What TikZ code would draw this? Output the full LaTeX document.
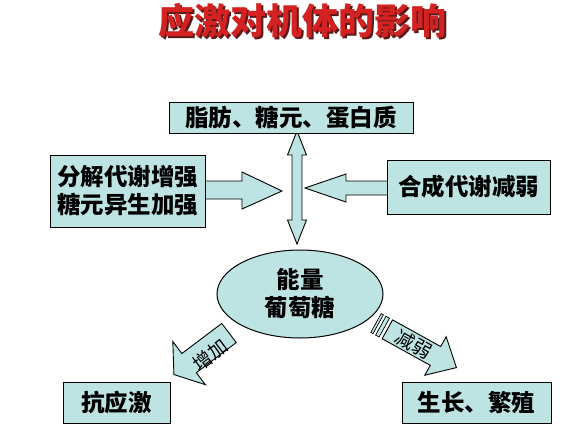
\documentclass[tikz,border=0pt]{standalone}
\usepackage{fontspec}
\newfontfamily\cjk{Noto Sans CJK SC}
\usetikzlibrary{shapes.geometric}
\definecolor{boxfill}{HTML}{BEE3E3}
\definecolor{titlered}{HTML}{D42222}
\definecolor{titleshadow}{HTML}{5A1A1A}
\tikzset{
  box/.style={draw=black, line width=1pt, fill=boxfill, inner sep=0pt,
    font=\cjk\bfseries\fontsize{23.5}{28}\selectfont, align=center},
  blockarrow/.style={draw=black, line width=0.9pt, fill=boxfill, line join=miter},
  arrowlabel/.style={font=\cjk\fontsize{19}{20}\selectfont, inner sep=0pt},
  titletext/.style={font=\cjk\bfseries\fontsize{36}{38}\selectfont}
}
\begin{document}
\begin{tikzpicture}[x=1pt,y=-1pt]
\useasboundingbox (0,0) rectangle (587,437);
\fill[white] (0,0) rectangle (587,437);
% title
\node[titletext, text=titleshadow] (titlesh) at (304.5,22.5) {应激对机体的影响};
\node[titletext, text=titlered] (title) at (302.5,20.5) {应激对机体的影响};
% horizontal arrows
\draw[blockarrow] (200,181) -- (242,181) -- (242,172) -- (282,191) -- (242,209) -- (242,199) -- (200,199) -- cycle;
\draw[blockarrow] (392,181) -- (346,181) -- (346,174) -- (305,188) -- (346,202) -- (346,195) -- (392,195) -- cycle;
% vertical double arrow
\draw[blockarrow] (297,131) -- (306.5,155) -- (302,155) -- (302,220) -- (306.5,220) -- (297,244)
  -- (287.5,220) -- (292,220) -- (292,155) -- (287.5,155) -- cycle;
% diagonal left arrow
\begin{scope}[shift={(229,333)}, rotate=217]
  \draw[blockarrow] (0,-12) -- (50,-12) -- (50,-27) -- (69,0) -- (50,27) -- (50,12) -- (0,12) -- cycle;
\end{scope}
% diagonal right striped arrow
\begin{scope}[shift={(376,323)}, rotate=-29]
  \draw[blockarrow, line width=0.7pt] (0,-10.75) rectangle (2.5,10.75);
  \draw[blockarrow, line width=0.7pt] (5.5,-10.75) rectangle (9.5,10.75);
  \draw[blockarrow] (13,-10.75) -- (68,-10.75) -- (68,-22) -- (92,0) -- (68,22) -- (68,10.75) -- (13,10.75) -- cycle;
\end{scope}
\node[arrowlabel, rotate=37] (lblinc) at (210,355) {增加};
\node[arrowlabel, rotate=-29] (lbldec) at (414,344) {减弱};
% boxes
\node[box, minimum width=244pt, minimum height=31pt] (top) at (291,117.5) {脂肪、糖元、蛋白质};
\node[box, minimum width=155pt, minimum height=72pt] (left) at (127.5,191) {分解代谢增强\\糖元异生加强};
\node[box, minimum width=163pt, minimum height=54pt] (right) at (468.5,187) {合成代谢减弱};
\node[box, ellipse, minimum width=166pt, minimum height=88pt] (energy) at (300,294) {能量\\葡萄糖};
\node[box, minimum width=107pt, minimum height=41pt] (anti) at (116.5,402.5) {抗应激};
\node[box, minimum width=149pt, minimum height=41pt] (grow) at (476.5,402.5) {生长、繁殖};
\end{tikzpicture}
\end{document}
